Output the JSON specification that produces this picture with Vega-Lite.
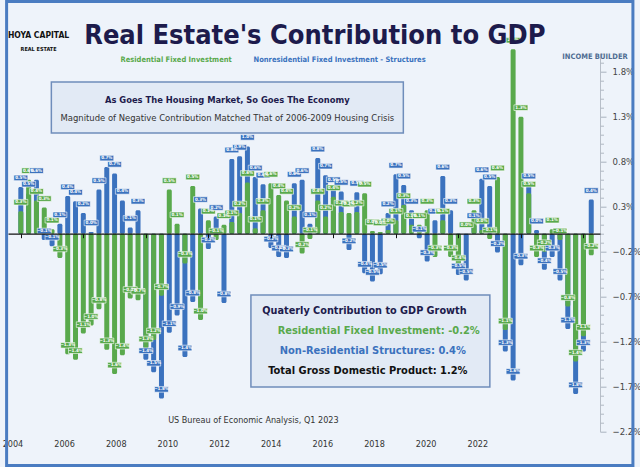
{
"$schema":"https://vega.github.io/schema/vega-lite/v6.json",
"width":592,"height":378,
"autosize":{"type":"none"},
"padding":{"left":8,"top":53.7,"right":40,"bottom":35.3},
"background":"#EEF3FA",
"config":{"view":{"stroke":null},"font":"Liberation Sans Narrow, DejaVu Sans Condensed, sans-serif","text":{"font":"Liberation Sans Narrow, DejaVu Sans Condensed, sans-serif"}},
"datasets":{
"gdp":[
{"t":2004.75,"res":0.25,"nonres":0.52},
{"t":2005.0,"res":0.6,"nonres":0.45},
{"t":2005.25,"res":0.37,"nonres":0.6},
{"t":2005.5,"res":0.29,"nonres":-0.07},
{"t":2005.75,"res":0.05,"nonres":-0.14},
{"t":2006.0,"res":-0.27,"nonres":0.11},
{"t":2006.25,"res":-1.34,"nonres":0.42},
{"t":2006.5,"res":-1.4,"nonres":0.36},
{"t":2006.75,"res":-1.11,"nonres":0.23},
{"t":2007.0,"res":-1.02,"nonres":0.02},
{"t":2007.25,"res":-0.84,"nonres":0.49},
{"t":2007.5,"res":-1.29,"nonres":0.74},
{"t":2007.75,"res":-1.56,"nonres":0.67},
{"t":2008.0,"res":-1.35,"nonres":0.37},
{"t":2008.25,"res":-0.72,"nonres":0.07},
{"t":2008.5,"res":-0.74,"nonres":0.26},
{"t":2008.75,"res":-1.27,"nonres":-1.4},
{"t":2009.0,"res":-1.18,"nonres":-1.54},
{"t":2009.25,"res":-0.69,"nonres":-1.83},
{"t":2009.5,"res":0.49,"nonres":-1.1},
{"t":2009.75,"res":0.11,"nonres":-0.91},
{"t":2010.0,"res":-0.33,"nonres":-1.37},
{"t":2010.25,"res":0.53,"nonres":-0.76},
{"t":2010.5,"res":-0.96,"nonres":0.28},
{"t":2010.75,"res":0.15,"nonres":-0.17},
{"t":2011.0,"res":-0.07,"nonres":0.19},
{"t":2011.25,"res":0.1,"nonres":-0.77},
{"t":2011.5,"res":0.13,"nonres":0.83},
{"t":2011.75,"res":0.23,"nonres":0.86},
{"t":2012.0,"res":0.57,"nonres":0.97},
{"t":2012.25,"res":0.06,"nonres":0.63},
{"t":2012.5,"res":0.26,"nonres":0.55},
{"t":2012.75,"res":0.56,"nonres":-0.16},
{"t":2013.0,"res":0.43,"nonres":-0.26},
{"t":2013.25,"res":0.37,"nonres":-0.27},
{"t":2013.5,"res":0.19,"nonres":0.56},
{"t":2013.75,"res":-0.22,"nonres":0.6},
{"t":2014.0,"res":-0.06,"nonres":0.11},
{"t":2014.25,"res":0.37,"nonres":0.84},
{"t":2014.5,"res":0.19,"nonres":0.65},
{"t":2014.75,"res":0.41,"nonres":0.5},
{"t":2015.0,"res":0.24,"nonres":0.47},
{"t":2015.25,"res":0.23,"nonres":-0.18},
{"t":2015.5,"res":0.24,"nonres":0.46},
{"t":2015.75,"res":0.45,"nonres":-0.44},
{"t":2016.0,"res":0.03,"nonres":-0.53},
{"t":2016.25,"res":0.02,"nonres":-0.45},
{"t":2016.5,"res":0.04,"nonres":0.23},
{"t":2016.75,"res":0.15,"nonres":0.66},
{"t":2017.0,"res":0.32,"nonres":0.54},
{"t":2017.25,"res":0.1,"nonres":0.26},
{"t":2017.5,"res":0.1,"nonres":-0.05},
{"t":2017.75,"res":0.26,"nonres":-0.31},
{"t":2018.0,"res":-0.26,"nonres":0.15},
{"t":2018.25,"res":0.15,"nonres":0.64},
{"t":2018.5,"res":-0.26,"nonres":0.26},
{"t":2018.75,"res":-0.37,"nonres":-0.46},
{"t":2019.0,"res":0.0,"nonres":-0.52},
{"t":2019.25,"res":0.26,"nonres":0.1},
{"t":2019.5,"res":0.04,"nonres":0.61},
{"t":2019.75,"res":-0.06,"nonres":0.53},
{"t":2020.0,"res":0.63,"nonres":-0.21},
{"t":2020.25,"res":-1.07,"nonres":-1.31},
{"t":2020.5,"res":2.05,"nonres":-1.63},
{"t":2020.75,"res":1.3,"nonres":-0.35},
{"t":2021.0,"res":0.45,"nonres":0.54},
{"t":2021.25,"res":-0.26,"nonres":0.04},
{"t":2021.5,"res":-0.2,"nonres":-0.4},
{"t":2021.75,"res":0.05,"nonres":-0.26},
{"t":2022.0,"res":-0.07,"nonres":-0.52},
{"t":2022.25,"res":-0.81,"nonres":-1.06},
{"t":2022.5,"res":-1.42,"nonres":-1.78},
{"t":2022.75,"res":-1.14,"nonres":-1.31},
{"t":2023.0,"res":-0.24,"nonres":0.38}
],
"years":[{"year":2004},{"year":2006},{"year":2008},{"year":2010},{"year":2012},{"year":2014},{"year":2016},{"year":2018},{"year":2020},{"year":2022}]
},
"layer":[
{"layer":[
{"data":{"values":[{}]},"mark":{"type":"rect","fillOpacity":0,"stroke":"#4A7CC1","strokeWidth":3},
 "encoding":{"x":{"datum":2004.2955,"type":"quantitative"},"x2":{"datum":2024.333},"y":{"datum":2.58,"type":"quantitative"},"y2":{"datum":-2.5756}}},
{"data":{"values":[{}]},"mark":{"type":"rect","fill":"#E2EAF5","stroke":"#6F8DBB","strokeWidth":1.5},
 "encoding":{"x":{"datum":2005.727,"type":"quantitative"},"x2":{"datum":2016.988},"y":{"datum":1.686,"type":"quantitative"},"y2":{"datum":1.119}}},
{"data":{"values":[{}]},"mark":{"type":"rect","fill":"#E2EAF5","stroke":"#6F8DBB","strokeWidth":1.5},
 "encoding":{"x":{"datum":2012.112,"type":"quantitative"},"x2":{"datum":2019.756},"y":{"datum":-0.681,"type":"quantitative"},"y2":{"datum":-1.703}}},
{"data":{"name":"gdp"},"transform":[{"fold":["nonres","res"],"as":["series","value"]}],
 "mark":{"type":"bar","width":5,"cornerRadius":1.5},
 "encoding":{
  "x":{"field":"t","type":"quantitative","scale":{"domain":[2004.5,2023.12],"nice":false,"zero":false},
   "axis":{"orient":"bottom","offset":-198,"values":[2004.75,2005.75,2006.75,2007.75,2008.75,2009.75,2010.75,2011.75,2012.75,2013.75,2014.75,2015.75,2016.75,2017.75,2018.75,2019.75,2020.75,2021.75,2022.75],"labels":false,"title":null,"grid":false,"domainColor":"#111111","domainWidth":1.3,"tickColor":"#111111","tickSize":4,"zindex":1}},
  "y":{"field":"value","type":"quantitative","stack":null,"scale":{"domain":[-2.2,2.0],"nice":false},
   "axis":{"orient":"right","title":null,"grid":false,"values":[1.8,1.3,0.8,0.3,-0.2,-0.7,-1.2,-1.7,-2.2],
    "labelExpr":"format(datum.value, '.1f') + '%'",
    "labelOverlap":false,"labelBound":false,"labelFontSize":9.5,"labelColor":"#444444","labelPadding":6,"tickSize":6,"tickColor":"#A9B2BE","domainColor":"#B7BEC8"}},
  "color":{"field":"series","type":"nominal","scale":{"domain":["res","nonres"],"range":["#59A94C","#3B72BE"]},
   "legend":{"orient":"none","direction":"horizontal","legendX":105,"legendY":2,"title":null,"padding":0,"symbolSize":0,"symbolOpacity":0,"symbolStrokeWidth":0,"labelOffset":0,"columnPadding":14,"labelFontSize":7.5,"labelFontWeight":"bold","labelLimit":400,
    "labelExpr":"datum.value == 'res' ? 'Residential Fixed Investment' : 'Nonresidential Fixed Investment - Structures'",
    "encode":{"labels":{"update":{"fill":{"scale":"color","field":"value"}}}}}}
 }},
{"data":{"name":"gdp"},"transform":[{"fold":["nonres","res"],"as":["series","value"]}],
 "mark":{"type":"point","shape":"M-1,-0.4H1V0.4H-1Z","size":196,"filled":true,"opacity":1,"stroke":"#FFFFFF","strokeWidth":0.6},
 "encoding":{"x":{"field":"t","type":"quantitative"},"y":{"field":"value","type":"quantitative"},
  "yOffset":{"condition":{"test":"datum.value >= 0","value":9},"value":-9},
  "fill":{"condition":{"test":"datum.series == 'res'","value":"#59A94C"},"value":"#3B72BE"}}},
{"data":{"name":"gdp"},"transform":[{"fold":["nonres","res"],"as":["series","value"]},{"calculate":"format(datum.value, '.1f') + '%'","as":"lbl"}],
 "mark":{"type":"text","fontSize":4.5,"fontWeight":"bold","fill":"#FFFFFF","baseline":"middle","align":"center"},
 "encoding":{"x":{"field":"t","type":"quantitative"},"y":{"field":"value","type":"quantitative"},
  "yOffset":{"condition":{"test":"datum.value >= 0","value":9},"value":-9},
  "text":{"field":"lbl"}}},
{"data":{"values":[{}]},"mark":{"type":"text","fontSize":27,"fontWeight":"bold","fill":"#1D1B4C","baseline":"alphabetic","align":"center"},
 "encoding":{"x":{"datum":2014.156,"type":"quantitative"},"y":{"datum":2.108,"type":"quantitative"},"text":{"value":"Real Estate's Contribution to GDP"}}},
{"data":{"values":[{}]},"mark":{"type":"text","fontSize":8.5,"fontWeight":"bold","fill":"#111111","baseline":"middle","align":"center"},
 "encoding":{"x":{"datum":2005.318,"type":"quantitative"},"y":{"datum":2.208,"type":"quantitative"},"text":{"value":"HOYA CAPITAL"}}},
{"data":{"values":[{}]},"mark":{"type":"text","fontSize":5.5,"fontWeight":"bold","fill":"#111111","baseline":"middle","align":"center"},
 "encoding":{"x":{"datum":2005.318,"type":"quantitative"},"y":{"datum":2.052,"type":"quantitative"},"text":{"value":"REAL ESTATE"}}},
{"data":{"values":[{}]},"mark":{"type":"text","fontSize":7.5,"fontWeight":"bold","fill":"#4F6D92","baseline":"middle","align":"center"},
 "encoding":{"x":{"datum":2023.12,"type":"quantitative"},"y":{"datum":1.963,"type":"quantitative"},"text":{"value":"INCOME BUILDER"}}},
{"data":{"values":[{}]},"mark":{"type":"text","fontSize":9.3,"fontWeight":"bold","fill":"#1D1B4C","baseline":"middle","align":"center"},
 "encoding":{"x":{"datum":2011.357,"type":"quantitative"},"y":{"datum":1.486,"type":"quantitative"},"text":{"value":"As Goes The Housing Market, So Goes The Economy"}}},
{"data":{"values":[{}]},"mark":{"type":"text","fontSize":9.4,"fill":"#333333","baseline":"middle","align":"center"},
 "encoding":{"x":{"datum":2011.357,"type":"quantitative"},"y":{"datum":1.286,"type":"quantitative"},"text":{"value":"Magnitude of Negative Contribution Matched That of 2006-2009 Housing Crisis"}}},
{"data":{"values":[{}]},"mark":{"type":"text","fontSize":10.8,"fontWeight":"bold","fill":"#1D1B4C","baseline":"middle","align":"center"},
 "encoding":{"x":{"datum":2015.744,"type":"quantitative"},"y":{"datum":-0.859,"type":"quantitative"},"text":{"value":"Quaterly Contribution to GDP Growth"}}},
{"data":{"values":[{}]},"mark":{"type":"text","fontSize":11,"fontWeight":"bold","fill":"#59A94C","baseline":"middle","align":"center"},
 "encoding":{"x":{"datum":2016.2,"type":"quantitative"},"y":{"datum":-1.081,"type":"quantitative"},"text":{"value":"Residential Fixed Investment: -0.2%"}}},
{"data":{"values":[{}]},"mark":{"type":"text","fontSize":11,"fontWeight":"bold","fill":"#3B72BE","baseline":"middle","align":"center"},
 "encoding":{"x":{"datum":2016.011,"type":"quantitative"},"y":{"datum":-1.303,"type":"quantitative"},"text":{"value":"Non-Residential Structures: 0.4%"}}},
{"data":{"values":[{}]},"mark":{"type":"text","fontSize":11,"fontWeight":"bold","fill":"#111111","baseline":"middle","align":"center"},
 "encoding":{"x":{"datum":2015.854,"type":"quantitative"},"y":{"datum":-1.526,"type":"quantitative"},"text":{"value":"Total Gross Domestic Product: 1.2%"}}},
{"data":{"values":[{}]},"mark":{"type":"text","fontSize":9,"fill":"#333333","baseline":"middle","align":"center"},
 "encoding":{"x":{"datum":2012.19,"type":"quantitative"},"y":{"datum":-2.07,"type":"quantitative"},"text":{"value":"US Bureau of Economic Analysis, Q1 2023"}}}
]},
{"data":{"name":"years"},"mark":{"type":"point","opacity":0},
 "encoding":{"x":{"field":"year","type":"quantitative","scale":{"domain":[2003.827,2026.752],"nice":false,"zero":false},
  "axis":{"orient":"bottom","values":[2004,2006,2008,2010,2012,2014,2016,2018,2020,2022],"format":"d","title":null,"grid":false,"domain":false,"ticks":false,"labelPadding":8,"labelFontSize":9,"labelColor":"#333333","labelFlush":false,"labelBound":false}},
  "y":{"datum":0,"type":"quantitative","axis":{"orient":"right","title":null,"grid":false,"domain":false,"labels":false,"tickSize":3.5,"tickColor":"#B0B8C3","values":[2.0,1.9,1.7,1.6,1.5,1.4,1.2,1.1,1.0,0.9,0.7,0.6,0.5,0.4,0.2,0.1,0,-0.1,-0.3,-0.4,-0.5,-0.6,-0.8,-0.9,-1.0,-1.1,-1.3,-1.4,-1.5,-1.6,-1.8,-1.9,-2.0,-2.1]}}}}
],
"resolve":{"scale":{"x":"independent"},"axis":{"y":"independent"}}
}
